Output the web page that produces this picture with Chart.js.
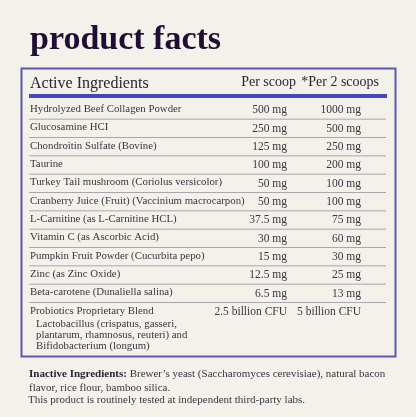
<!DOCTYPE html><html><head><meta charset="utf-8">
<script src="https://cdn.jsdelivr.net/npm/chart.js@4"></script>
<style>html,body{margin:0;padding:0;background:#f3f1ea}#w{width:416px;height:417px}</style></head><body><div id="w"><canvas id="c"></canvas></div>
<script>
const ingredients=["Hydrolyzed Beef Collagen Powder","Glucosamine HCI","Chondroitin Sulfate (Bovine)","Taurine","Turkey Tail mushroom (Coriolus versicolor)","Cranberry Juice (Fruit) (Vaccinium macrocarpon)","L-Carnitine (as L-Carnitine HCL)","Vitamin C (as Ascorbic Acid)","Pumpkin Fruit Powder (Cucurbita pepo)","Zinc (as Zinc Oxide)","Beta-carotene (Dunaliella salina)","Probiotics Proprietary Blend"];
const perScoop=["500 mg","250 mg","125 mg","100 mg","50 mg","50 mg","37.5 mg","30 mg","15 mg","12.5 mg","6.5 mg","2.5 billion CFU"];
const perTwo=["1000 mg","500 mg","250 mg","200 mg","100 mg","100 mg","75 mg","60 mg","30 mg","25 mg","13 mg","5 billion CFU"];
const columnHeaders=["Active Ingredients","Per scoop","*Per 2 scoops"];
const probioticDetail=["Lactobacillus (crispatus, gasseri,","plantarum, rhamnosus, reuteri) and","Bifidobacterium (longum)"];
const SERIF="'Liberation Serif','DejaVu Serif',serif";
const plug={id:'tbl',
beforeDraw(ch){const c=ch.ctx;c.save();c.fillStyle='#f3f1ea';c.fillRect(0,0,ch.width,ch.height);c.restore();},
afterDraw(ch){const c=ch.ctx,y=ch.scales.y;c.save();
c.fillStyle='#1e0f33';c.font="bold 34px "+SERIF;c.textBaseline='alphabetic';c.textAlign='left';c.fillText('product facts',30,49);
c.strokeStyle='#5d58ad';c.lineWidth=2;c.strokeRect(21.5,68.5,374,288);
c.fillStyle='#2a2433';c.font="16px "+SERIF;c.fillText(columnHeaders[0],30,88);
c.font="14px "+SERIF;c.textAlign='right';c.fillText(columnHeaders[1],296,86);c.fillText(columnHeaders[2],379,86);
c.fillStyle='#4846b8';c.fillRect(29,94,358,4);
ingredients.forEach((n,i)=>{const cy=y.getPixelForValue(i);
c.fillStyle='#3a3540';c.font="10.8px "+SERIF;c.textBaseline='middle';c.textAlign='left';c.fillText(n,30,cy);
c.font="11.5px "+SERIF;c.textAlign='right';c.fillText(perScoop[i],287,cy+1);c.fillText(perTwo[i],361,cy+1);
if(i<ingredients.length-1){c.fillStyle='#a9a6ad';c.fillRect(29,cy+9.5,357,1);}});
const ly=y.getPixelForValue(ingredients.length-1);c.textAlign='left';c.fillStyle='#3a3540';c.font="10.8px "+SERIF;
probioticDetail.forEach((t,k)=>c.fillText(t,36,ly+13+k*11));
c.textBaseline='alphabetic';c.font="bold 11px "+SERIF;const b='Inactive Ingredients:';c.fillStyle='#2a2433';c.fillText(b,29,377);
const bw=c.measureText(b).width;c.font="11px "+SERIF;c.fillStyle='#3a3540';
c.fillText(" Brewer\u2019s yeast (Saccharomyces cerevisiae), natural bacon",29+bw,377);
c.fillText("flavor, rice flour, bamboo silica.",29,391);
c.fillText("This product is routinely tested at independent third-party labs.",28,403);
c.restore();}};
new Chart(document.getElementById('c'),{type:'bar',data:{labels:ingredients,datasets:[{data:ingredients.map(()=>0),backgroundColor:'transparent'}]},
options:{indexAxis:'y',responsive:true,maintainAspectRatio:false,animation:false,layout:{padding:{top:100,bottom:97,left:0,right:0}},
plugins:{legend:{display:false},tooltip:{enabled:false}},scales:{x:{display:false},y:{display:false}}},plugins:[plug]});
</script></body></html>
